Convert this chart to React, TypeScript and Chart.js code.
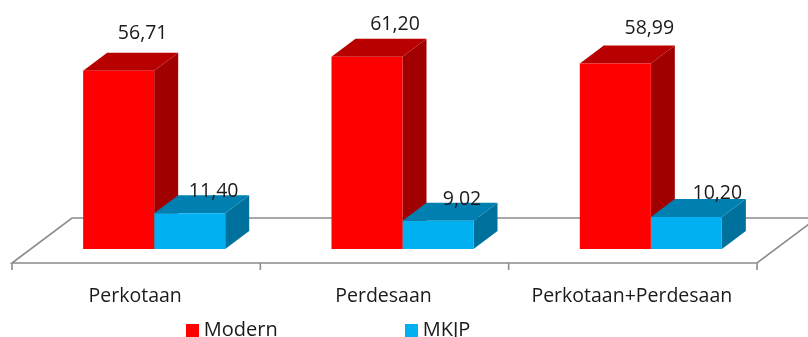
import React, { useEffect, useRef } from "react";
import { Chart, registerables } from "chart.js";

Chart.register(...registerables);

const categories = ["Perkotaan", "Perdesaan", "Perkotaan+Perdesaan"];
const modernValues = [56.71, 61.2, 58.99];
const mkjpValues = [11.4, 9.02, 10.2];
const seriesNames = ["Modern", "MKJP"];
const frontColors = ["#FF0000", "#00B0F0"];
const topColors = ["#B80000", "#0080B0"];
const sideColors = ["#A00000", "#00709D"];

// Data-label placement relative to the top of each bar's 3D block
const labelRise = [
  [37, 32, 35],
  [22, 21, 24],
];
const labelShift = [
  [0, 4, 10],
  [0, 0, 7],
];

const FONT = '"Open Sans", sans-serif';
const DX = 24;
const DY = 18;
const FLOOR_FRONT_DROP = 14;
const FLOOR_FRONT_SHIFT = 18;
const FLOOR_DX = 60;
const FLOOR_DY = 45;
const LEGEND_PADDING = 132;

function swatch(color: string) {
  const c = document.createElement("canvas");
  c.width = 13;
  c.height = 13;
  const g = c.getContext("2d")!;
  g.fillStyle = color;
  g.fillRect(0, 0, 13, 13);
  return c;
}

const bars3d = {
  id: "bars3d",
  afterLayout(chart: any) {
    const l = chart.legend;
    l.left -= 72;
    l.right -= 72;
    l.top = 320 - LEGEND_PADDING;
  },
  beforeDatasetsDraw(chart: any) {
    const { ctx, chartArea, scales } = chart;
    const x0 = chartArea.left - FLOOR_FRONT_SHIFT;
    const x1 = chartArea.right - FLOOR_FRONT_SHIFT;
    const yF = scales.y.getPixelForValue(0) + FLOOR_FRONT_DROP;
    ctx.save();
    ctx.strokeStyle = "#8C8C8C";
    ctx.lineWidth = 1.6;
    ctx.beginPath();
    ctx.moveTo(x0, yF);
    ctx.lineTo(x1, yF);
    ctx.lineTo(x1 + FLOOR_DX, yF - FLOOR_DY);
    ctx.lineTo(x0 + FLOOR_DX, yF - FLOOR_DY);
    ctx.closePath();
    ctx.stroke();
    const step = (x1 - x0) / categories.length;
    for (let i = 0; i <= categories.length; i++) {
      ctx.beginPath();
      ctx.moveTo(x0 + step * i, yF);
      ctx.lineTo(x0 + step * i, yF + 7);
      ctx.stroke();
    }
    [0, 1].forEach((d) => {
      chart.getDatasetMeta(d).data.forEach((b: any) => {
        const l = b.x - b.width / 2;
        const r = b.x + b.width / 2;
        ctx.fillStyle = sideColors[d];
        ctx.beginPath();
        ctx.moveTo(r, b.y);
        ctx.lineTo(r + DX, b.y - DY);
        ctx.lineTo(r + DX, b.base - DY);
        ctx.lineTo(r, b.base);
        ctx.closePath();
        ctx.fill();
        ctx.fillStyle = topColors[d];
        ctx.beginPath();
        ctx.moveTo(l, b.y);
        ctx.lineTo(l + DX, b.y - DY);
        ctx.lineTo(r + DX, b.y - DY);
        ctx.lineTo(r, b.y);
        ctx.closePath();
        ctx.fill();
      });
    });
    ctx.restore();
  },
  afterDatasetsDraw(chart: any) {
    const { ctx } = chart;
    ctx.save();
    ctx.font = `19.5px ${FONT}`;
    ctx.fillStyle = "#1A1A1A";
    ctx.textAlign = "center";
    ctx.textBaseline = "middle";
    [0, 1].forEach((d) => {
      chart.getDatasetMeta(d).data.forEach((b: any, i: number) => {
        const v = chart.data.datasets[d].data[i];
        ctx.fillText(
          v.toFixed(2).replace(".", ","),
          b.x + DX + labelShift[d][i],
          b.y - labelRise[d][i]
        );
      });
    });
    ctx.restore();
  },
};

export default function App() {
  const ref = useRef<HTMLCanvasElement>(null);
  useEffect(() => {
    const chart = new Chart(ref.current!, {
      type: "bar",
      data: {
        labels: categories,
        datasets: [
          { label: seriesNames[0], data: modernValues, backgroundColor: frontColors[0] },
          { label: seriesNames[1], data: mkjpValues, backgroundColor: frontColors[1] },
        ],
      },
      plugins: [bars3d],
      options: {
        animation: false,
        responsive: false,
        layout: { padding: { left: 30, right: 33, top: 29, bottom: 0 } },
        datasets: { bar: { categoryPercentage: 0.572, barPercentage: 1 } },
        scales: {
          x: {
            grid: { display: false },
            border: { display: false },
            afterFit(s: any) {
              s.height = 64;
            },
            ticks: {
              font: { family: FONT, size: 19.5 },
              color: "#1A1A1A",
              padding: 28,
              labelOffset: -19,
              maxRotation: 0,
              autoSkip: false,
            },
          },
          y: { display: false, min: 0, max: 70 },
        },
        plugins: {
          tooltip: { enabled: false },
          legend: {
            position: "bottom",
            maxHeight: 24,
            labels: {
              usePointStyle: true,
              pointStyleWidth: 3,
              boxHeight: 13,
              padding: LEGEND_PADDING,
              color: "#1A1A1A",
              font: { family: FONT, size: 20 },
              generateLabels(c: any) {
                return Chart.defaults.plugins.legend.labels
                  .generateLabels(c)
                  .map((item: any, i: number) => ({ ...item, pointStyle: swatch(frontColors[i]) }));
              },
            },
          },
        },
      },
    } as any);
    return () => chart.destroy();
  }, []);
  return (
    <div style={{ position: "fixed", left: 0, top: 0, width: 808, height: 337, background: "#fff" }}>
      <canvas ref={ref} width={808} height={337} style={{ display: "block" }} />
    </div>
  );
}
